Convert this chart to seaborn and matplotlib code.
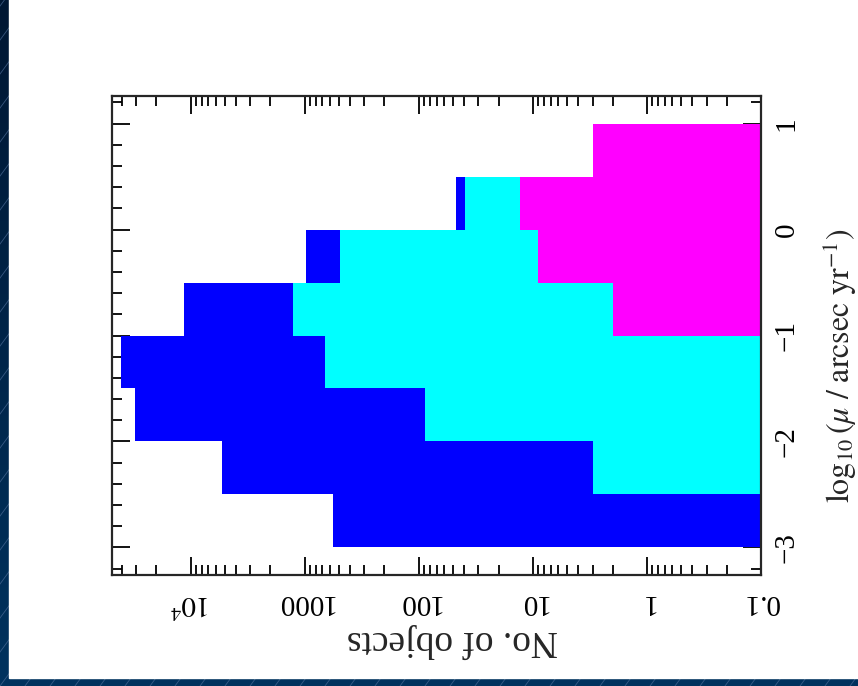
import numpy as np
import pandas as pd
import seaborn as sns
import matplotlib.pyplot as plt

from matplotlib.ticker import LogLocator, MultipleLocator, NullFormatter
from matplotlib.patches import Rectangle

# bins in log10(proper motion), 0.5 dex wide
bin_edges = [-3.0, -2.5, -2.0, -1.5, -1.0, -0.5, 0.0, 0.5, 1.0]

# object counts per bin
counts_blue    = [570, 5300, 31000, 41000, 11500, 980, 47, 0]
counts_cyan    = [0, 3, 89, 660, 1260, 490, 39, 0]
counts_magenta = [0, 0, 0, 0, 2, 9, 13, 3]

count_ticks  = [0.1, 1, 10, 100, 1000, 1e4]
count_labels = ['0.1', '1', '10', '100', '1000', r'$10^4$']
mu_ticks  = [-3, -2, -1, 0, 1]
mu_labels = ['\u22123', '\u22122', '\u22121', '0', '1']

centres = [(a + b) / 2 for a, b in zip(bin_edges[:-1], bin_edges[1:])]
df = pd.DataFrame({'log_mu': centres * 3,
                   'n': counts_blue + counts_cyan + counts_magenta,
                   'sample': ['blue'] * 8 + ['cyan'] * 8 + ['magenta'] * 8})
colours = {'blue': '#0000ff', 'cyan': '#00ffff', 'magenta': '#ff00ff'}

sns.set_style('ticks')
plt.rcParams['font.family'] = ['Liberation Serif', 'DejaVu Serif']
plt.rcParams['mathtext.fontset'] = 'stix'

fig = plt.figure(figsize=(8.58, 6.86), dpi=100)

#background: navy border with faint diagonal lines, white page on top
bg = fig.add_axes([0, 0, 1, 1])
bg.set_xlim(0, 858)
bg.set_ylim(0, 686)
grad = np.linspace(0, 1, 256).reshape(-1, 1)
navy = plt.matplotlib.colors.LinearSegmentedColormap.from_list('navy', ['#00335f', '#001733'])
bg.imshow(grad, cmap=navy, extent=[0, 858, 0, 686], aspect='auto', origin='lower')
for x0 in np.arange(-600, 900, 25):
    bg.plot([x0, x0 + 686 / 1.36], [0, 686], color='#4f6f9a', lw=0.6, alpha=0.7)
bg.add_patch(Rectangle((9, 8), 860, 700, color='white', zorder=5))
bg.set_axis_off()

ax = fig.add_axes([112 / 858, 111 / 686, 649 / 858, 479 / 686])
for name in ['blue', 'cyan', 'magenta']:
    sub = df[df['sample'] == name]
    sns.histplot(data=sub, y='log_mu', weights='n', bins=bin_edges,
                 element='step', fill=True, color=colours[name],
                 alpha=1, linewidth=0, ax=ax)

ax.set_xscale('log')
ax.set_xlim(4.9e4, 0.1)
ax.set_ylim(-3.26, 1.26)
ax.set_axisbelow(True)

ax.set_xticks(count_ticks)
ax.set_xticklabels(count_labels, rotation=180)
ax.xaxis.set_minor_locator(LogLocator(base=10, subs=np.arange(2, 10)))
ax.xaxis.set_minor_formatter(NullFormatter())
ax.set_yticks(mu_ticks)
ax.set_yticklabels(mu_labels, rotation=90, va='center')
ax.yaxis.set_minor_locator(MultipleLocator(0.2))

ax.tick_params(which='both', direction='in', top=True, bottom=True,
               left=True, right=True, labelleft=False, labelright=True,
               width=1.3, colors='black')
ax.tick_params(which='major', length=13)
ax.tick_params(which='minor', length=7)
ax.tick_params(axis='x', labelsize=21, pad=10)
ax.tick_params(axis='y', labelsize=21, pad=9)
for s in ax.spines.values():
    s.set_linewidth(1.6)

ax.yaxis.set_label_position('right')
ax.set_ylabel(r'$\log_{10}(\mu\ /\ \mathrm{arcsec\ yr}^{-1})$', fontsize=23,
              rotation=90)
ax.yaxis.set_label_coords(1.092, 0.436)
ax.set_xlabel('No. of objects', rotation=180, fontsize=27)
ax.xaxis.set_label_coords(0.524, -0.100)

fig.savefig('out.png', dpi=100)
